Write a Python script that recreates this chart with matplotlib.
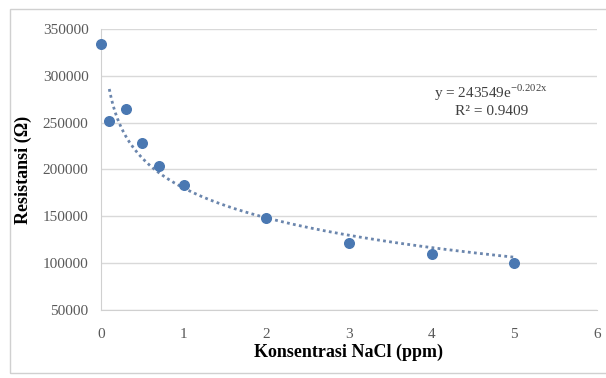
import numpy as np
import matplotlib.pyplot as plt
from matplotlib.patches import Rectangle

# data
konsentrasi = [0, 0.1, 0.3, 0.5, 0.7, 1, 2, 3, 4, 5]
resistansi = [334000, 252000, 265000, 228000, 204000, 183000, 148000, 122000, 109500, 100000]
x_ticks = [0, 1, 2, 3, 4, 5, 6]
y_ticks = [50000, 100000, 150000, 200000, 250000, 300000, 350000]

plt.rcParams['font.family'] = ['Liberation Serif', 'DejaVu Serif']
plt.rcParams['mathtext.fontset'] = 'custom'
plt.rcParams['mathtext.rm'] = 'Liberation Serif'

fig = plt.figure(figsize=(6.06, 3.78), dpi=100)
# light frame round the chart (right side runs off the picture)
fig.patches.append(Rectangle((10 / 606, 5 / 378), 620 / 606, 364 / 378, transform=fig.transFigure,
                             fill=False, edgecolor='#d0d0d0', linewidth=1))
ax = fig.add_axes((101 / 606, 1 - 310 / 378, 496 / 606, 281 / 378))

# trend line, fitted on x > 0 (log trend)
x = np.array(konsentrasi, dtype=float)
y = np.array(resistansi, dtype=float)
m = x > 0
b, a = np.polyfit(np.log(x[m]), y[m], 1)
xt = np.linspace(0.1, 5, 200)
ax.plot(xt, a + b * np.log(xt), linestyle=(0, (1, 1.2)), color='#6b86ad', linewidth=2, zorder=2)

ax.scatter(konsentrasi, resistansi, s=48, color='#4a78b2', zorder=3, clip_on=False)

ax.set_xlim(0, 6)
ax.set_ylim(50000, 350000)
ax.set_xticks(x_ticks)
ax.set_yticks(y_ticks)
ax.tick_params(length=0, labelsize=11, labelcolor='#595959')
ax.tick_params(axis='x', pad=13)
ax.tick_params(axis='y', pad=9)
ax.grid(axis='y', color='#d9d9d9', linewidth=1)
ax.set_axisbelow(True)
for s in ['top', 'right']:
    ax.spines[s].set_visible(False)
for s in ['left', 'bottom']:
    ax.spines[s].set_color('#d0d0d0')

ax.set_xlabel('Konsentrasi NaCl (ppm)', fontsize=13, fontweight='bold', labelpad=2)
ax.set_ylabel('Resistansi (Ω)', fontsize=13, fontweight='bold', labelpad=8)

ax.text(4.72, 282000, 'y = 243549e$^{\\mathrm{-0.202x}}$', ha='center', va='center',
        fontsize=11, color='#404040')
ax.text(4.72, 262000, 'R² = 0.9409', ha='center', va='center',
        fontsize=11, color='#404040')

fig.savefig('out.png', dpi=100)
